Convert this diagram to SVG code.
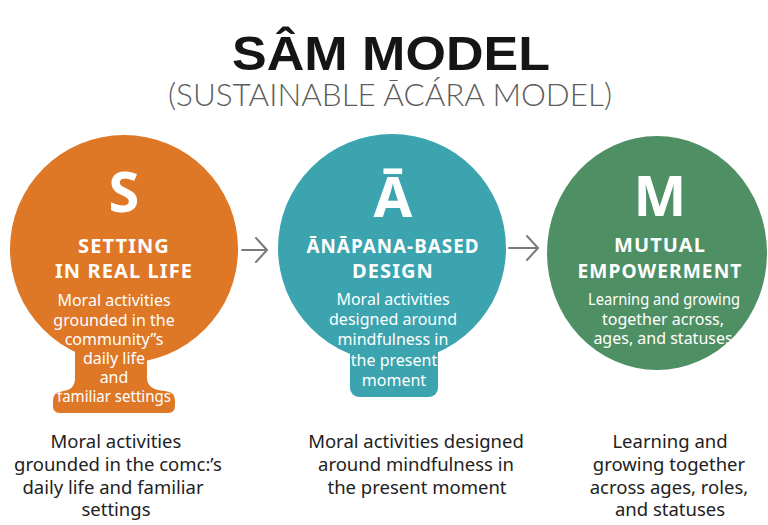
<svg xmlns="http://www.w3.org/2000/svg" width="768" height="525" viewBox="0 0 768 525">
<style>
.title{font-family:"Liberation Sans",Arial,sans-serif;font-weight:bold;fill:#151515;text-anchor:middle}
.sub{font-family:Lato,"Open Sans","Liberation Sans",sans-serif;font-weight:300;fill:#5c5c5c;text-anchor:middle}
.big{font-family:"Noto Sans","Open Sans",sans-serif;font-weight:bold;fill:#fff;text-anchor:middle;font-size:56px}
.head{font-family:"Noto Sans","Open Sans",sans-serif;font-weight:bold;fill:#fff;text-anchor:middle;font-size:20px;letter-spacing:1.1px}
.body{font-family:"Noto Sans","Open Sans",sans-serif;fill:#fff;text-anchor:middle;font-size:16px}
.note{font-family:"Noto Sans","Open Sans",sans-serif;fill:#222;text-anchor:middle;font-size:18.5px}
.arrow{fill:none;stroke:#7a7a7a;stroke-width:2;stroke-linecap:round;stroke-linejoin:round}
</style>
<rect width="768" height="525" fill="#fff"/>
<g id="title">
<text class="title" x="391" y="70" font-size="49" textLength="318" lengthAdjust="spacingAndGlyphs">SÂM MODEL</text>
<text class="sub" x="390" y="106" font-size="32" textLength="444" lengthAdjust="spacingAndGlyphs">(SUSTAINABLE ĀCÁRA MODEL)</text>
</g>
<g id="connectors">
<path class="arrow" d="M242 250 H266 M256 238 L267 250 L256 262"/>
<path class="arrow" d="M509 248 H537 M527 236 L538 248 L527 260"/>
</g>
<g id="node-s">
<circle cx="124" cy="249" r="114" fill="#DE7726"/>
<path fill="#DE7726" d="M75 340 L75 378 Q75 390 63 391 Q53 392 53 400 L53 406 Q53 413 60 413 L168 413 Q175 413 175 406 L175 400 Q175 392 165 391 Q147 390 147 378 L147 340 Z"/>
<text class="big" x="124" y="212">S</text>
<text class="head" x="124" y="253">SETTING</text>
<text class="head" x="124" y="278">IN REAL LIFE</text>
<text class="body" x="114" y="306">Moral activities</text>
<text class="body" x="114" y="326">grounded in the</text>
<text class="body" x="114" y="345">community”s</text>
<text class="body" x="114" y="364">daily life</text>
<text class="body" x="114" y="383">and</text>
<text class="body" x="114" y="402" textLength="114" lengthAdjust="spacingAndGlyphs">familiar settings</text>
</g>
<g id="node-a">
<circle cx="392" cy="248" r="114" fill="#3BA4AF"/>
<rect x="350" y="330" width="88" height="67" rx="9" fill="#3BA4AF"/>
<text class="big" x="393" y="217">Ā</text>
<text class="head" x="393" y="253" textLength="173" lengthAdjust="spacingAndGlyphs">ĀNĀPANA-BASED</text>
<text class="head" x="393" y="278">DESIGN</text>
<text class="body" x="393" y="305">Moral activities</text>
<text class="body" x="393" y="325">designed around</text>
<text class="body" x="393" y="345">mindfulness in</text>
<text class="body" x="394" y="366">the present</text>
<text class="body" x="394" y="386">moment</text>
</g>
<g id="node-m">
<ellipse cx="657" cy="253" rx="110" ry="117" fill="#4F8F64"/>
<text class="big" x="660" y="216">M</text>
<text class="head" x="660" y="252">MUTUAL</text>
<text class="head" x="660" y="278" textLength="165" lengthAdjust="spacingAndGlyphs">EMPOWERMENT</text>
<text class="body" x="664" y="305" textLength="152" lengthAdjust="spacingAndGlyphs">Learning and growing</text>
<text class="body" x="663" y="325">together across,</text>
<text class="body" x="663" y="344">ages, and statuses</text>
</g>
<g id="notes">
<text class="note" x="116" y="448">Moral activities</text>
<text class="note" x="118" y="471">grounded in the comc:’s</text>
<text class="note" x="113" y="494">daily life and familiar</text>
<text class="note" x="116" y="516">settings</text>
<text class="note" x="416" y="448">Moral activities designed</text>
<text class="note" x="416" y="471">around mindfulness in</text>
<text class="note" x="417" y="494">the present moment</text>
<text class="note" x="670" y="448">Learning and</text>
<text class="note" x="669" y="471">growing together</text>
<text class="note" x="669" y="494">across ages, roles,</text>
<text class="note" x="670" y="516">and statuses</text>
</g>
</svg>
